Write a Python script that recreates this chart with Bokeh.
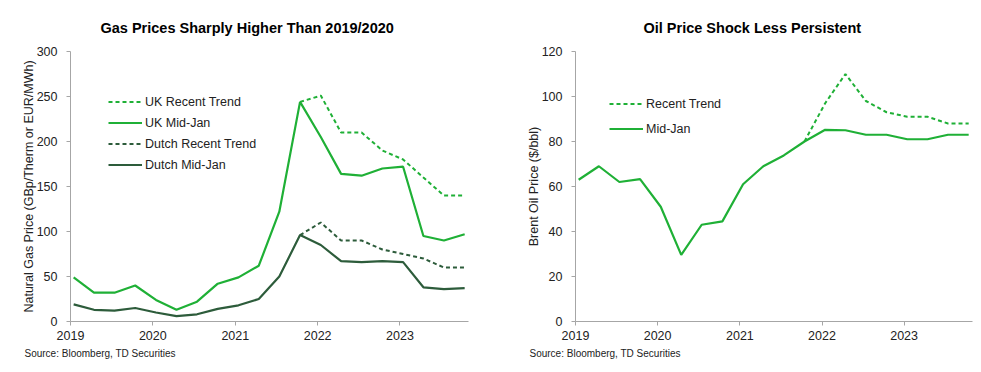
import pandas as pd
from datetime import datetime
from bokeh.plotting import figure
from bokeh.layouts import row
from bokeh.models import (Range1d, FixedTicker, DatetimeTickFormatter, Legend, LegendItem, Title)
from bokeh.embed import file_html
from bokeh.resources import INLINE

# ---------------- data ----------------
dates = ["2019-01-15", "2019-04-15", "2019-07-15", "2019-10-15",
         "2020-01-15", "2020-04-15", "2020-07-15", "2020-10-15",
         "2021-01-15", "2021-04-15", "2021-07-15", "2021-10-15",
         "2022-01-15", "2022-04-15", "2022-07-15", "2022-10-15",
         "2023-01-15", "2023-04-15", "2023-07-15", "2023-10-15"]
trend_dates = dates[11:]

uk_mid_jan = [49, 32, 32, 40, 24, 13, 22, 42, 49, 62, 122, 244,
              205, 164, 162, 170, 172, 95, 90, 97]
uk_recent = [244, 251, 210, 210, 190, 180, 160, 140, 140]
dutch_mid_jan = [19, 13, 12, 15, 10, 6, 8, 14, 18, 25, 50, 96,
                 85, 67, 66, 67, 66, 38, 36, 37]
dutch_recent = [96, 110, 90, 90, 80, 75, 70, 60, 60]

oil_mid_jan = [63, 69, 62, 63.3, 51, 29.6, 43, 44.5, 61, 69, 73.8, 80,
               85.2, 85, 83, 83, 81, 81, 83, 83]
oil_recent = [80, 97, 110, 98, 93, 91, 91, 88, 88]

year_ticks = [2019, 2020, 2021, 2022, 2023]
gas_yticks = [0, 50, 100, 150, 200, 250, 300]
oil_yticks = [0, 20, 40, 60, 80, 100, 120]

gas_title = "Gas Prices Sharply Higher Than 2019/2020"
oil_title = "Oil Price Shock Less Persistent"
gas_ylabel = "Natural Gas Price (GBp/Therm or EUR/MWh)"
oil_ylabel = "Brent Oil Price ($/bbl)"
source = "Source: Bloomberg, TD Securities"

# ---------------- style ----------------
GREEN = "#1fb036"
DARK = "#2d5c3b"
FONT = "Liberation Sans"
TXT = "#222222"
AXC = "#a6a6a6"

x_dates = pd.to_datetime(dates)
t_dates = pd.to_datetime(trend_dates)
tick_ms = [datetime(y, 1, 1).timestamp() * 1000 for y in year_ticks]


def make_fig(width, left, right, ymax, yticks, ylabel, title, title_offset):
    p = figure(width=width, height=364, output_backend="svg", toolbar_location=None,
               x_axis_type="datetime",
               x_range=Range1d(datetime(2019, 1, 1), datetime(2023, 11, 1)),
               y_range=Range1d(0, ymax),
               min_border_left=left, min_border_right=right,
               min_border_top=51, min_border_bottom=43)
    p.outline_line_color = None
    p.xgrid.visible = False
    p.ygrid.visible = False
    p.background_fill_color = "white"
    p.border_fill_color = "white"
    p.xaxis.ticker = FixedTicker(ticks=tick_ms)
    p.xaxis.formatter = DatetimeTickFormatter(years="%Y", months="%Y", days="%Y",
                                              hours="%Y", minutes="%Y", seconds="%Y")
    p.yaxis.ticker = FixedTicker(ticks=yticks)
    for ax in (p.xaxis[0], p.yaxis[0]):
        ax.axis_line_color = AXC
        ax.major_tick_line_color = AXC
        ax.major_tick_out = 4
        ax.major_tick_in = 0
        ax.minor_tick_line_color = None
        ax.major_label_text_font = FONT
        ax.major_label_text_font_size = "12.5px"
        ax.major_label_text_color = TXT
    p.xaxis.major_label_standoff = 5
    p.yaxis.major_label_standoff = 9
    p.yaxis.axis_label = ylabel
    p.yaxis.axis_label_text_font = FONT
    p.yaxis.axis_label_text_font_size = "12.5px"
    p.yaxis.axis_label_text_font_style = "normal"
    p.yaxis.axis_label_text_color = TXT
    p.yaxis.axis_label_standoff = -2

    p.title.text = title
    p.title.align = "left"
    p.title.offset = title_offset
    p.title.standoff = 32
    p.title.text_font = FONT
    p.title.text_font_style = "bold"
    p.title.text_font_size = "14.5px"
    p.title.text_color = "black"

    src = Title(text=source, align="left", offset=-46, standoff=6,
                text_font=FONT, text_font_style="normal", text_font_size="10px",
                text_color=TXT)
    p.add_layout(src, "below")
    return p


def style_legend(lg, loc, glyph_h):
    lg.location = loc
    lg.glyph_width = 34
    lg.glyph_height = glyph_h
    lg.label_standoff = 3
    lg.spacing = 0
    lg.padding = 0
    lg.margin = 0
    lg.border_line_color = None
    lg.background_fill_alpha = 0
    lg.label_text_font = FONT
    lg.label_text_font_size = "12.5px"
    lg.label_text_color = TXT
    lg.label_height = glyph_h


# ---------------- gas chart ----------------
p1 = make_fig(493, 70, 25, 300, gas_yticks, gas_ylabel, gas_title, 30)
r_ukr = p1.line(t_dates, uk_recent, color=GREEN, line_width=2, line_dash="4 3")
r_dr = p1.line(t_dates, dutch_recent, color=DARK, line_width=2, line_dash="4 3")
r_uk = p1.line(x_dates, uk_mid_jan, color=GREEN, line_width=2.2)
r_d = p1.line(x_dates, dutch_mid_jan, color=DARK, line_width=2.2)
lg1 = Legend(items=[LegendItem(label="UK Recent Trend", renderers=[r_ukr]),
                    LegendItem(label="UK Mid-Jan", renderers=[r_uk]),
                    LegendItem(label="Dutch Recent Trend", renderers=[r_dr]),
                    LegendItem(label="Dutch Mid-Jan", renderers=[r_d])])
style_legend(lg1, (38, 146), 21)
p1.add_layout(lg1)

# ---------------- oil chart ----------------
p2 = make_fig(486, 82, 7, 120, oil_yticks, oil_ylabel, oil_title, 68)
r_or = p2.line(t_dates, oil_recent, color=GREEN, line_width=2, line_dash="4 3")
r_o = p2.line(x_dates, oil_mid_jan, color=GREEN, line_width=2.2)
lg2 = Legend(items=[LegendItem(label="Recent Trend", renderers=[r_or]),
                    LegendItem(label="Mid-Jan", renderers=[r_o])])
style_legend(lg2, (34, 180), 25)
p2.add_layout(lg2)

layout = row(p1, p2)
open("out.html", "w").write(file_html(layout, INLINE))
